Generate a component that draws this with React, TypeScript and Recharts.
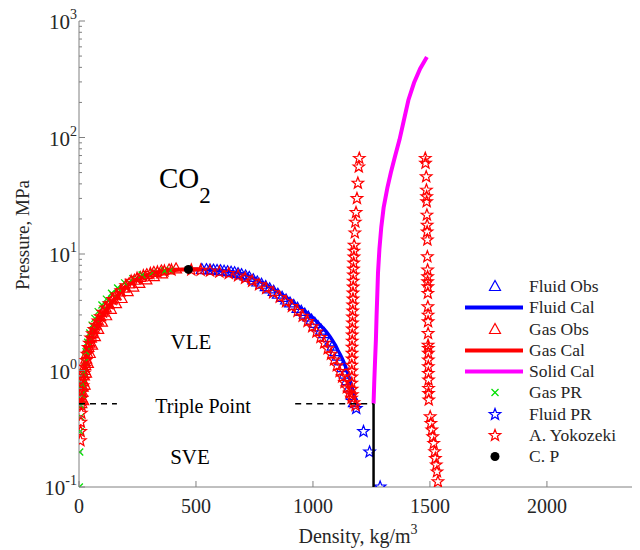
import React from 'react';
import { ScatterChart, Scatter, XAxis, YAxis, Legend } from 'recharts';

const FONT = '"Liberation Serif", "Times New Roman", serif';
const TEXT = '#262626';
const AXIS = '#808080';

// axis ticks
const xTicks = [0, 500, 1000, 1500, 2000];
const yMajor = [0.1, 1, 10, 100, 1000];
const yExp = ['-1', '0', '1', '2', '3'];
const yMinor = [
  0.2, 0.3, 0.4, 0.5, 0.6, 0.7, 0.8, 0.9,
  2, 3, 4, 5, 6, 7, 8, 9,
  20, 30, 40, 50, 60, 70, 80, 90,
  200, 300, 400, 500, 600, 700, 800, 900,
];
const yTicks = [...yMajor, ...yMinor];

// Fluid Obs (liquid branch, triangles)
const fluidObsRho = [525, 545, 560, 575, 590, 605, 620, 635, 650, 665, 680, 695, 712, 728, 745, 762, 780, 798, 815, 832, 850, 868, 885, 902, 918, 934, 950, 965, 980, 994, 1008, 1022, 1035, 1048, 1060, 1072, 1084, 1095, 1106, 1116, 1126, 1136, 1146, 1156, 1166, 1175];
const fluidObsP = [7.36, 7.34, 7.3, 7.27, 7.22, 7.18, 7.12, 7.05, 6.98, 6.9, 6.78, 6.65, 6.48, 6.3, 6.0, 5.75, 5.5, 5.25, 5.02, 4.78, 4.52, 4.25, 4.03, 3.8, 3.62, 3.42, 3.22, 3.05, 2.88, 2.71, 2.54, 2.37, 2.22, 2.07, 1.92, 1.76, 1.62, 1.45, 1.33, 1.21, 1.06, 0.93, 0.82, 0.71, 0.61, 0.53];

// Fluid Cal (liquid branch line)
const fluidCalRho = [467, 535, 590, 640, 680, 715, 750, 785, 815, 845, 873, 900, 925, 950, 973, 996, 1014, 1031, 1047, 1061, 1074, 1086, 1097, 1106, 1116, 1125, 1133, 1140, 1148, 1155, 1164, 1172, 1180];
const fluidCalP = [7.377, 7.35, 7.25, 7.1, 6.9, 6.6, 6.15, 5.64, 5.2, 4.8, 4.4, 4.03, 3.7, 3.4, 3.12, 2.88, 2.66, 2.45, 2.27, 2.1, 1.94, 1.78, 1.64, 1.5, 1.38, 1.27, 1.17, 1.07, 0.96, 0.86, 0.75, 0.65, 0.56];

// Gas Obs (vapour branch, triangles)
const gasObsRho = [10, 12, 14, 16, 18, 21, 24, 27, 31, 35, 40, 45, 51, 57, 64, 72, 81, 91, 102, 114, 127, 141, 157, 174, 193, 214, 237, 262, 290, 320, 352, 385, 415,
  18, 24, 30, 38, 46, 56, 68, 82, 98, 116, 136, 158, 182, 208, 232, 258, 288, 320, 355];
const gasObsP = [0.52, 0.58, 0.65, 0.72, 0.8, 0.9, 1.0, 1.1, 1.25, 1.4, 1.58, 1.72, 1.9, 2.07, 2.25, 2.45, 2.67, 2.9, 3.17, 3.45, 3.72, 4.03, 4.38, 4.72, 5.1, 5.55, 5.95, 6.3, 6.65, 6.95, 7.15, 7.3, 7.45,
  0.55, 0.75, 0.95, 1.15, 1.4, 1.65, 1.95, 2.25, 2.6, 2.95, 3.35, 3.75, 4.15, 4.75, 5.2, 5.6, 6.0, 6.4, 6.75];

// Gas Cal (vapour branch line)
const gasCalRho = [13.8, 16, 19, 23, 28, 33, 40, 47, 55, 65, 76, 90, 105, 122, 142, 165, 192, 222, 258, 300, 345, 395, 440, 467, 500, 525];
const gasCalP = [0.518, 0.6, 0.7, 0.85, 1.05, 1.25, 1.47, 1.66, 1.95, 2.2, 2.45, 2.8, 3.1, 3.45, 3.9, 4.45, 5.05, 5.7, 6.2, 6.7, 7.05, 7.25, 7.35, 7.377, 7.37, 7.36];

// Solid Cal
const solidCalRho = [1259, 1262, 1266, 1269, 1272, 1275, 1278, 1284, 1292, 1302, 1318, 1333, 1350, 1370, 1390, 1408, 1432, 1458, 1487];
const solidCalP = [0.518, 0.8, 1.3, 1.83, 3, 4.5, 6.9, 11, 17, 25, 37, 50, 68, 96, 145, 210, 295, 390, 490];

// Gas PR
const gasPRRho = [1.5, 3, 5, 7, 9, 12, 15, 19, 24, 30, 37, 46, 56, 68, 82, 98, 117, 139, 165, 195, 230, 270, 315, 365, 390];
const gasPRP = [0.1, 0.2, 0.3, 0.4, 0.5, 0.62, 0.76, 0.95, 1.18, 1.45, 1.75, 2.1, 2.45, 2.8, 3.2, 3.65, 4.1, 4.6, 5.1, 5.65, 6.15, 6.6, 6.95, 7.15, 7.22];

// Fluid PR
const fluidPRRho = [1185, 1216, 1242, 1287];
const fluidPRP = [0.473, 0.3, 0.2, 0.1];

// A. Yokozeki
const yokoGasRho = [6, 7, 8, 10, 11, 13, 15, 17, 20, 23, 26, 30, 34, 39, 44, 50, 57, 64, 72, 81, 91, 102, 114, 128, 143, 160, 179, 200, 223, 248, 275, 305, 335, 365, 395];
const yokoGasP = [0.25, 0.3, 0.36, 0.43, 0.5, 0.58, 0.66, 0.74, 0.84, 0.95, 1.07, 1.22, 1.38, 1.58, 1.72, 1.9, 2.07, 2.25, 2.45, 2.67, 2.9, 3.17, 3.45, 3.74, 4.07, 4.45, 4.85, 5.35, 5.85, 6.2, 6.5, 6.8, 7.0, 7.15, 7.28];
const yokoLiqRho = [480, 520, 560, 600, 640, 680, 710, 740, 770, 800, 830, 858, 885, 910, 934, 956, 977, 997, 1015, 1032, 1048, 1063, 1077, 1090, 1102, 1114, 1125, 1135, 1145, 1155, 1165, 1175, 1182];
const yokoLiqP = [7.3, 7.25, 7.15, 7.0, 6.8, 6.5, 6.2, 5.85, 5.45, 5.05, 4.65, 4.25, 3.9, 3.55, 3.22, 2.92, 2.64, 2.38, 2.14, 1.92, 1.72, 1.54, 1.38, 1.23, 1.1, 0.98, 0.88, 0.79, 0.71, 0.64, 0.58, 0.53, 0.5];
const yokoLiqColRho = [1198, 1196, 1192, 1188, 1184, 1181, 1179, 1176, 1175, 1175, 1174, 1173, 1173, 1172, 1172, 1171, 1171, 1170, 1170, 1169, 1169, 1168, 1168, 1168, 1167, 1167, 1167, 1166, 1166, 1166, 1166, 1167, 1168];
const yokoLiqColP = [66.3, 56, 40.6, 30, 22.7, 18.8, 15.2, 11.9, 10.6, 9.42, 8.37, 7.43, 6.6, 5.86, 5.21, 4.63, 4.11, 3.65, 3.24, 2.88, 2.56, 2.27, 2.02, 1.79, 1.59, 1.41, 1.26, 1.11, 0.99, 0.88, 0.78, 0.69, 0.62];
const yokoSolColRho = [1480, 1481, 1484, 1485, 1486, 1486, 1487, 1488, 1488, 1489, 1489, 1490, 1490, 1490, 1491, 1491, 1491, 1492, 1492, 1492, 1492, 1493, 1493, 1493, 1493, 1493, 1494, 1494, 1494, 1495, 1501, 1504, 1508, 1512, 1516, 1520, 1523, 1527, 1530, 1534];
const yokoSolColP = [66.3, 60.1, 46.1, 35.4, 31.0, 28.1, 21.6, 17.7, 15.5, 13.2, 9.48, 7.29, 6.38, 5.78, 5.24, 4.6, 3.53, 2.99, 2.62, 2.08, 1.65, 1.55, 1.41, 1.23, 1.08, 0.946, 0.829, 0.703, 0.637, 0.558, 0.401, 0.352, 0.309, 0.27, 0.237, 0.201, 0.176, 0.155, 0.135, 0.111];

// critical point
const cpRho = [467.6];
const cpP = [7.377];

// triple point lines
const tripleP = 0.518;
const tripleLeftRho = [0, 162];
const tripleRightRho = [924, 1259];
const svLineRho = [1259, 1259];
const svLineP = [0.1, 0.518];

const pts = (xs: number[], ys: number[]) => xs.map((x, i) => ({ x, y: ys[i] }));

const yokozeki = [
  ...pts(yokoGasRho, yokoGasP),
  ...pts(yokoLiqRho, yokoLiqP),
  ...pts(yokoLiqColRho, yokoLiqColP),
  ...pts(yokoSolColRho, yokoSolColP),
];

const starPath = (cx: number, cy: number, r: number) => {
  let d = '';
  for (let k = 0; k < 10; k++) {
    const rad = k % 2 === 0 ? r : r * 0.42;
    const a = -Math.PI / 2 + (k * Math.PI) / 5;
    d += (k ? 'L' : 'M') + (cx + rad * Math.cos(a)).toFixed(2) + ',' + (cy + rad * Math.sin(a)).toFixed(2);
  }
  return d + 'Z';
};

const Triangle = (color: string) => (props: any) => {
  const { cx, cy } = props;
  return (
    <polygon
      points={`${cx},${cy - 6} ${cx - 5.5},${cy + 4} ${cx + 5.5},${cy + 4}`}
      fill="none"
      stroke={color}
      strokeWidth={1.2}
    />
  );
};

const Star = (color: string) => (props: any) => (
  <path d={starPath(props.cx, props.cy, 6)} fill="none" stroke={color} strokeWidth={1.25} />
);

const Cross = (color: string) => (props: any) => {
  const { cx, cy } = props;
  return (
    <g stroke={color} strokeWidth={1.3}>
      <line x1={cx - 3.5} y1={cy - 3.5} x2={cx + 3.5} y2={cy + 3.5} />
      <line x1={cx - 3.5} y1={cy + 3.5} x2={cx + 3.5} y2={cy - 3.5} />
    </g>
  );
};

const Dot = (props: any) => <circle cx={props.cx} cy={props.cy} r={4.5} fill="#000" />;
const NoMark = () => <g />;

const XTickBottom = (props: any) => {
  const { x, y, payload } = props;
  return (
    <g>
      <line x1={x} y1={y} x2={x} y2={y - 6} stroke={AXIS} />
      <text x={x} y={y + 26} textAnchor="middle" fontSize={20} fill={TEXT} fontFamily={FONT}>
        {payload.value}
      </text>
    </g>
  );
};

const XTickTop = (props: any) => {
  const { x, y } = props;
  return <line x1={x} y1={y} x2={x} y2={y + 6} stroke={AXIS} />;
};

const YTickLeft = (props: any) => {
  const { x, y, payload } = props;
  const i = yMajor.indexOf(payload.value);
  if (i < 0) return <line x1={x} y1={y} x2={x + 3} y2={y} stroke={AXIS} />;
  return (
    <g>
      <line x1={x} y1={y} x2={x + 6} y2={y} stroke={AXIS} />
      <text x={x - 2} y={y + 8} textAnchor="end" fontSize={21} fill={TEXT} fontFamily={FONT}>
        10
        <tspan dy={-10} fontSize={14}>{yExp[i]}</tspan>
      </text>
    </g>
  );
};

const YTickRight = (props: any) => {
  const { x, y, payload } = props;
  const len = yMajor.indexOf(payload.value) < 0 ? 3 : 6;
  return <line x1={x} y1={y} x2={x - len} y2={y} stroke={AXIS} />;
};

const legendItems = [
  { name: 'Fluid Obs', kind: 'triangle', color: '#0000ff' },
  { name: 'Fluid Cal', kind: 'line', color: '#0000ff' },
  { name: 'Gas Obs', kind: 'triangle', color: '#ff0000' },
  { name: 'Gas Cal', kind: 'line', color: '#ff0000' },
  { name: 'Solid Cal', kind: 'line', color: '#ff00ff' },
  { name: 'Gas PR', kind: 'cross', color: '#00e000' },
  { name: 'Fluid PR', kind: 'star', color: '#0000ff' },
  { name: 'A. Yokozeki', kind: 'star', color: '#ff0000' },
  { name: 'C. P', kind: 'dot', color: '#000000' },
];

const legendIcon = (kind: string, color: string) => {
  const p = { cx: 30, cy: 10.5 };
  if (kind === 'line') return <line x1={0} y1={10.5} x2={58} y2={10.5} stroke={color} strokeWidth={4} />;
  if (kind === 'triangle') return Triangle(color)(p);
  if (kind === 'star') return Star(color)(p);
  if (kind === 'cross') return Cross(color)(p);
  return Dot(p);
};

const LegendBox = () => (
  <div style={{ fontFamily: FONT, fontSize: 17.5, color: TEXT }}>
    {legendItems.map((item) => (
      <div key={item.name} style={{ display: 'flex', alignItems: 'center', height: 21.25 }}>
        <svg width={58} height={21} style={{ marginRight: 6, display: 'block' }}>
          {legendIcon(item.kind, item.color)}
        </svg>
        <span style={{ lineHeight: '21px', whiteSpace: 'nowrap' }}>{item.name}</span>
      </div>
    ))}
  </div>
);

export default function App() {
  return (
    <div style={{ width: 632, height: 542, fontFamily: FONT, background: '#fff' }}>
      <ScatterChart width={632} height={542} margin={{ top: 13, right: 3, bottom: 0, left: 0 }}>
        <XAxis
          type="number"
          dataKey="x"
          domain={[0, 2385]}
          ticks={xTicks}
          interval={0}
          allowDataOverflow
          height={63}
          tickSize={0}
          tickMargin={0}
          tickLine={false}
          axisLine={{ stroke: AXIS }}
          tick={XTickBottom}
        />
        <XAxis
          xAxisId="top"
          orientation="top"
          type="number"
          dataKey="x"
          domain={[0, 2385]}
          ticks={xTicks}
          interval={0}
          allowDataOverflow
          height={0}
          tickSize={0}
          tickMargin={0}
          tickLine={false}
          axisLine={{ stroke: AXIS }}
          tick={XTickTop}
        />
        <YAxis
          type="number"
          dataKey="y"
          scale="log"
          domain={[0.1, 1000]}
          ticks={yTicks}
          interval={0}
          allowDataOverflow
          width={71}
          tickSize={0}
          tickMargin={0}
          tickLine={false}
          axisLine={{ stroke: AXIS }}
          tick={YTickLeft}
        />
        <YAxis
          yAxisId="right"
          orientation="right"
          type="number"
          dataKey="y"
          scale="log"
          domain={[0.1, 1000]}
          ticks={yTicks}
          interval={0}
          allowDataOverflow
          width={0}
          tickSize={0}
          tickMargin={0}
          tickLine={false}
          axisLine={{ stroke: AXIS }}
          tick={YTickRight}
        />

        <Scatter name="Fluid Obs" data={pts(fluidObsRho, fluidObsP)} shape={Triangle('#0000ff')} isAnimationActive={false} />
        <Scatter name="Fluid Cal" data={pts(fluidCalRho, fluidCalP)} shape={NoMark} line={{ stroke: '#0000ff', strokeWidth: 3.5 }} isAnimationActive={false} />
        <Scatter name="Gas Obs" data={pts(gasObsRho, gasObsP)} shape={Triangle('#ff0000')} isAnimationActive={false} />
        <Scatter name="Gas Cal" data={pts(gasCalRho, gasCalP)} shape={NoMark} line={{ stroke: '#ff0000', strokeWidth: 4 }} isAnimationActive={false} />
        <Scatter name="Solid Cal" data={pts(solidCalRho, solidCalP)} shape={NoMark} line={{ stroke: '#ff00ff', strokeWidth: 4 }} isAnimationActive={false} />
        <Scatter name="Gas PR" data={pts(gasPRRho, gasPRP)} shape={Cross('#00e000')} isAnimationActive={false} />
        <Scatter name="Fluid PR" data={pts(fluidPRRho, fluidPRP)} shape={Star('#0000ff')} isAnimationActive={false} />
        <Scatter name="A. Yokozeki" data={yokozeki} shape={Star('#ff0000')} isAnimationActive={false} />
        <Scatter name="Triple left" data={pts(tripleLeftRho, [tripleP, tripleP])} shape={NoMark} line={{ stroke: '#000', strokeWidth: 1.5, strokeDasharray: '6 5' }} isAnimationActive={false} />
        <Scatter name="Triple right" data={pts(tripleRightRho, [tripleP, tripleP])} shape={NoMark} line={{ stroke: '#000', strokeWidth: 1.5, strokeDasharray: '6 5' }} isAnimationActive={false} />
        <Scatter name="SV line" data={pts(svLineRho, svLineP)} shape={NoMark} line={{ stroke: '#000', strokeWidth: 2.5 }} isAnimationActive={false} />
        <Scatter name="C. P" data={pts(cpRho, cpP)} shape={Dot} isAnimationActive={false} />

        <Legend
          layout="vertical"
          align="center"
          verticalAlign="middle"
          content={LegendBox}
          wrapperStyle={{ position: 'absolute', left: 457, top: 268, width: 'auto', height: 'auto' }}
        />

        <text x={151} y={180} fontSize={29} fill="#000" fontFamily={FONT}>
          CO<tspan dy={15} fontSize={23}>2</tspan>
        </text>
        <text x={183} y={341} fontSize={21} fill="#000" textAnchor="middle" fontFamily={FONT}>VLE</text>
        <text x={195} y={405} fontSize={20} fill="#000" textAnchor="middle" fontFamily={FONT}>Triple Point</text>
        <text x={182} y={456} fontSize={21} fill="#000" textAnchor="middle" fontFamily={FONT}>SVE</text>

        <text x={350} y={535} fontSize={20} fill={TEXT} textAnchor="middle" fontFamily={FONT}>
          Density, kg/m<tspan dy={-9} fontSize={14}>3</tspan>
        </text>
        <text x={14} y={227} fontSize={19} fill={TEXT} textAnchor="middle" fontFamily={FONT} transform="rotate(-90 14 227)" dominantBaseline="central">
          Pressure, MPa
        </text>
      </ScatterChart>
    </div>
  );
}
